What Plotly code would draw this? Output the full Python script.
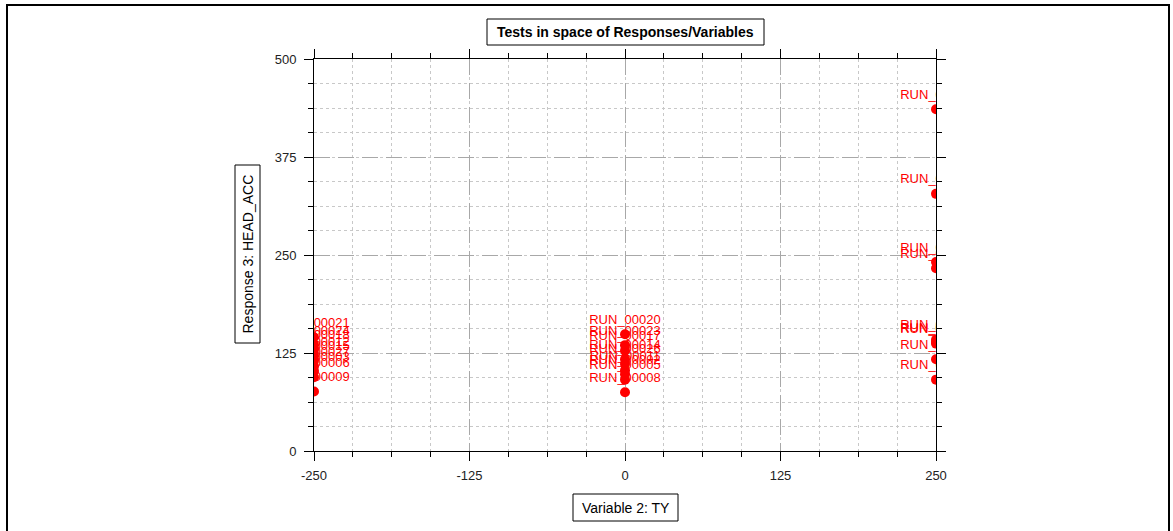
import plotly.graph_objects as go

# ---- data ----
ty_levels = [-250, 0, 250]

left_runs = ["RUN_00021", "RUN_00024", "RUN_00018", "RUN_00012", "RUN_00015",
             "RUN_00027", "RUN_00003", "RUN_00006", "RUN_00009"]
left_vals = [145, 135, 129, 121, 115, 108, 102, 94, 76]

mid_runs = ["RUN_00020", "RUN_00023", "RUN_00017", "RUN_00014", "RUN_00026",
            "RUN_00011", "RUN_00002", "RUN_00005", "RUN_00008"]
mid_vals = [149, 135, 128, 117, 111, 103, 98, 91, 75]

right_runs = ["RUN_00001", "RUN_00004", "RUN_00007", "RUN_00010", "RUN_00013",
              "RUN_00016", "RUN_00019", "RUN_00022", "RUN_00025"]
right_vals = [436, 328, 241, 233, 142, 139, 137, 117, 91]

x_ticks = [-250, -125, 0, 125, 250]
y_ticks = [0, 125, 250, 375, 500]

title_text = "Tests in space of Responses/Variables"
x_title = "Variable 2: TY"
y_title = "Response 3: HEAD_ACC"

# ---- build ----
groups = [(ty_levels[0], left_runs, left_vals),
          (ty_levels[1], mid_runs, mid_vals),
          (ty_levels[2], right_runs, right_vals)]
xs, ys, labels = [], [], []
for lvl, runs, vals in groups:
    xs += [lvl] * len(vals)
    ys += vals
    labels += runs

FONT = "Liberation Sans, Arial, sans-serif"

fig = go.Figure()
fig.add_trace(go.Scatter(
    x=xs, y=ys, text=labels, mode="markers+text",
    textposition="top center",
    textfont=dict(family=FONT, size=13, color="#ff0000"),
    marker=dict(color="#ff0000", size=10),
    cliponaxis=True, showlegend=False, hoverinfo="text",
))

W, H = 1173, 531
L, R, T, B = 314, 237, 59, 80
pw, ph = W - L - R, H - T - B

def px(x):
    return (x - L) / pw

def py(y):
    return (H - B - y) / ph

axis_common = dict(
    showline=True, linecolor="black", linewidth=1, mirror="ticks",
    ticks="outside", ticklen=9, tickcolor="black", tickwidth=1,
    showgrid=True, gridcolor="#a8a8a8", gridwidth=1, griddash="16px,8px",
    zeroline=False, layer="below traces",
    tickfont=dict(family=FONT, size=13, color="#222222"),
    minor=dict(dtick=31.25, ticks="outside", ticklen=5, tickcolor="black",
               showgrid=True, gridcolor="#c8c8c8", gridwidth=1, griddash="3px,3px"),
)

fig.update_xaxes(range=[-250, 250], tickvals=x_ticks, ticktext=[str(v) for v in x_ticks],
                 tick0=-250, ticklabelstandoff=3, **axis_common)
fig.update_yaxes(range=[0, 500], tickvals=y_ticks, ticktext=[str(v) for v in y_ticks],
                 tick0=0, ticklabelstandoff=5, **axis_common)

shapes = [
    # outer frame
    dict(type="rect", xref="paper", yref="paper", x0=px(7), x1=px(1169), y0=py(545), y1=py(5),
         line=dict(color="black", width=2), fillcolor="rgba(0,0,0,0)", layer="above"),
    # title box
    dict(type="rect", xref="paper", yref="paper", x0=px(487), x1=px(764), y0=py(45), y1=py(19),
         line=dict(color="black", width=1), fillcolor="rgba(0,0,0,0)"),
    # y title box
    dict(type="rect", xref="paper", yref="paper", x0=px(235), x1=px(260), y0=py(343), y1=py(165),
         line=dict(color="black", width=1), fillcolor="rgba(0,0,0,0)"),
    # x title box
    dict(type="rect", xref="paper", yref="paper", x0=px(573), x1=px(678), y0=py(521), y1=py(494),
         line=dict(color="black", width=1), fillcolor="rgba(0,0,0,0)"),
]

annotations = [
    dict(text="<b>%s</b>" % title_text, xref="paper", yref="paper", x=px(625.5), y=py(32),
         showarrow=False, xanchor="center", yanchor="middle",
         font=dict(family=FONT, size=14, color="black")),
    dict(text=y_title, xref="paper", yref="paper", x=px(247.5), y=py(254), textangle=-90,
         showarrow=False, xanchor="center", yanchor="middle",
         font=dict(family=FONT, size=14, color="black")),
    dict(text=x_title, xref="paper", yref="paper", x=px(625.5), y=py(507.5),
         showarrow=False, xanchor="center", yanchor="middle",
         font=dict(family=FONT, size=14, color="black")),
]

fig.update_layout(
    width=W, height=H, autosize=False,
    margin=dict(l=L, r=R, t=T, b=B, pad=0),
    paper_bgcolor="white", plot_bgcolor="white",
    shapes=shapes, annotations=annotations,
    showlegend=False,
)

fig.write_html("out.html", config={"displayModeBar": False},
               post_script="document.body.style.margin='0';document.body.style.overflow='hidden';")
